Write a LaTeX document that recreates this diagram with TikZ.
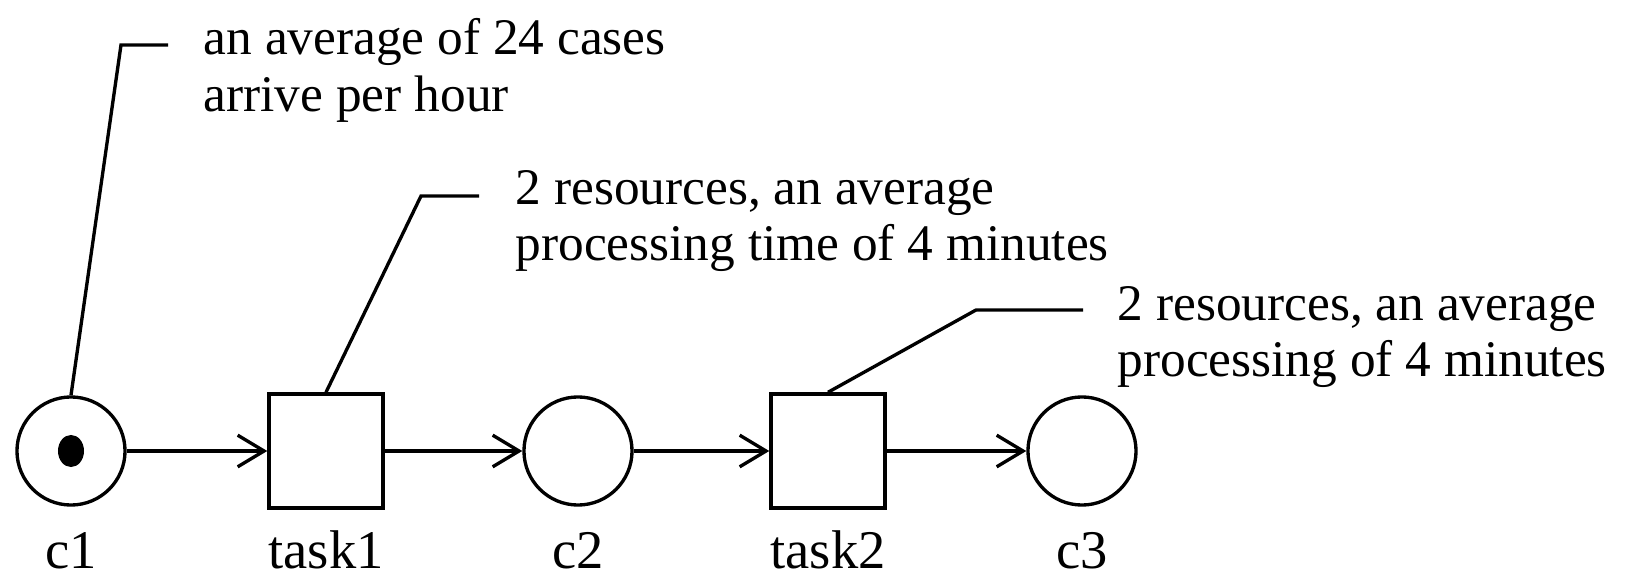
\documentclass[tikz,border=0pt]{standalone}
\usepackage{fontspec}
\setmainfont{Liberation Serif}
\usetikzlibrary{arrows.meta,shapes.geometric}
\tikzset{
  place/.style={circle, draw, line width=0.95pt, minimum size=1.08cm, inner sep=0pt},
  transition/.style={rectangle, draw, line width=0.95pt, minimum size=1.14cm, inner sep=0pt},
  token/.style={ellipse, fill, minimum width=0.26cm, minimum height=0.32cm, inner sep=0pt},
  flow/.style={-{Straight Barb[length=7.5pt,width=9pt,line width=0.95pt]}, line width=0.95pt},
  leader/.style={line width=0.95pt},
  note/.style={font=\fontsize{14.6}{16}\selectfont, align=left, inner sep=0pt, anchor=north west},
  nodename/.style={font=\fontsize{15.5}{18}\selectfont, inner sep=0pt, anchor=base},
}
\begin{document}
\begin{tikzpicture}[x=0.01cm, y=-0.01cm]
  \useasboundingbox (0,0) rectangle (1632,576);
  % places and tasks
  \node[place] (c1) at (71,451) {};
  \node[token] (tok) at (c1.center) {};
  \node[transition] (task1) at (326,451) {};
  \node[place] (c2) at (578,451) {};
  \node[transition] (task2) at (828,451) {};
  \node[place] (c3) at (1082,451) {};
  % names
  \node[nodename] (lc1) at (71,569) {c1};
  \node[nodename] (ltask1) at (326,569) {task1};
  \node[nodename] (lc2) at (578,569) {c2};
  \node[nodename] (ltask2) at (828,569) {task2};
  \node[nodename] (lc3) at (1082,569) {c3};
  % arcs
  \draw[flow] (c1) -- (task1);
  \draw[flow] (task1) -- (c2);
  \draw[flow] (c2) -- (task2);
  \draw[flow] (task2) -- (c3);
  % notes
  \coordinate (k1) at (121,45);
  \coordinate (e1) at (168,45);
  \draw[leader] (c1.north) -- (k1) -- (e1);
  \node[note] (n1) at (203,18) {an average of 24 cases\\arrive per hour};
  \coordinate (k2) at (421,196);
  \coordinate (e2) at (479,196);
  \draw[leader] (task1.north) -- (k2) -- (e2);
  \node[note] (n2) at (515,170) {2 resources, an average\\processing time of 4 minutes};
  \coordinate (k3) at (976,310);
  \coordinate (e3) at (1083,310);
  \draw[leader] (task2.north) -- (k3) -- (e3);
  \node[note] (n3) at (1117,286) {2 resources, an average\\processing of 4 minutes};
\end{tikzpicture}
\end{document}
